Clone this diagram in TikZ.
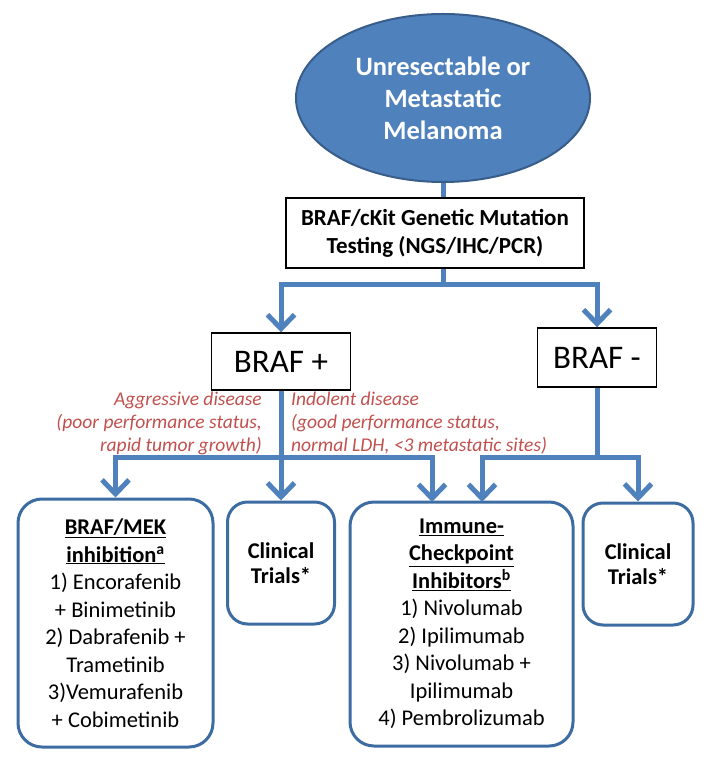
\documentclass[tikz,border=0pt]{standalone}
\usepackage{fontspec}
\setmainfont{Carlito}
\usetikzlibrary{arrows.meta,shapes.geometric}

\definecolor{accblue}{HTML}{4F81BD}
\definecolor{darkblue}{HTML}{385D8A}
\definecolor{boxblue}{HTML}{3D6CA3}
\definecolor{notered}{HTML}{C0504D}

\begin{document}
\begin{tikzpicture}[x=1pt, y=-1pt,
every node/.style={inner sep=0pt, align=center},
conn/.style={draw=accblue, line width=5pt},
arr/.style={conn, -{Straight Barb[length=14pt, width=27pt]}},
blk/.style={draw=black, line width=1.4pt, rectangle},
rbox/.style={draw=boxblue, line width=3pt, rounded corners=24pt, fill=white,
  font=\fontsize{22.5}{27.5}\selectfont},
note/.style={text=notered, font=\fontsize{19.5}{23}\selectfont\itshape},
]
\useasboundingbox (0,0) rectangle (712,759);

\node[ellipse, fill=accblue, draw=darkblue, line width=2pt,
  minimum width=294pt, minimum height=168pt, text=white,
  font=\fontsize{26.5}{32}\selectfont\bfseries] (mel) at (443,98)
  {Unresectable or\\Metastatic\\Melanoma};
\node[blk, minimum width=298pt, minimum height=70pt,
  font=\fontsize{23}{28}\selectfont\bfseries] (test) at (435,233)
  {BRAF/cKit Genetic Mutation\\Testing (NGS/IHC/PCR)};
\node[blk, minimum width=139pt, minimum height=57pt,
  font=\fontsize{33}{38}\selectfont] (brafp) at (281,361.5) {BRAF +};
\node[blk, minimum width=119pt, minimum height=59pt,
  font=\fontsize{33}{38}\selectfont] (brafn) at (597,357.5) {BRAF -};

\node[note, anchor=east, align=right] (aggr) at (262,423)
  {Aggressive disease\\(poor performance status,\\rapid tumor growth)};
\node[note, anchor=west, align=left] (indol) at (291,423)
  {Indolent disease\\(good performance status,\\normal LDH, <3 metastatic sites)};

\node[rbox, minimum width=195pt, minimum height=248pt] (mek) at (115.5,623)
  {\textbf{\underline{BRAF/MEK}}\\\textbf{\underline{inhibition\textsuperscript{a}}}\\
   1) Encorafenib\\+ Binimetinib\\2) Dabrafenib +\\Trametinib\\
   3)Vemurafenib\\+ Cobimetinib};
\node[rbox, rounded corners=20pt, minimum width=107pt, minimum height=122pt,
  font=\fontsize{22.5}{25}\selectfont\bfseries] (ct1) at (281,563)
  {Clinical\\Trials*};
\node[rbox, minimum width=223pt, minimum height=244pt] (icb) at (461.5,624)
  {\textbf{\underline{Immune-}}\\\textbf{\underline{Checkpoint}}\\
   \textbf{\underline{Inhibitors\textsuperscript{b}}}\\
   1) Nivolumab\\2) Ipilimumab\\3) Nivolumab +\\Ipilimumab\\4) Pembrolizumab};
\node[rbox, rounded corners=20pt, minimum width=110pt, minimum height=122pt,
  font=\fontsize{22.5}{25}\selectfont\bfseries] (ct2) at (638,564)
  {Clinical\\Trials*};

\coordinate (split) at (443,284);
\coordinate (pj) at (281,457);
\coordinate (nj) at (597,457);
\coordinate (icbL) at (432,502);
\coordinate (icbR) at (482,502);

\draw[conn] (mel.south) -- (mel.south |- test.north);
\draw[conn] (mel.south |- test.south) -- (split);
\draw[arr] (split) -| (brafp);
\draw[arr] (split) -| (brafn);
\draw[arr] (brafp) -- (ct1);
\draw[arr] (pj) -| (mek);
\draw[arr] (pj) -| (icbL);
\draw[conn] (brafn) -- (nj);
\draw[arr] (nj) -| (icbR);
\draw[arr] (nj) -| (ct2);
\end{tikzpicture}
\end{document}
